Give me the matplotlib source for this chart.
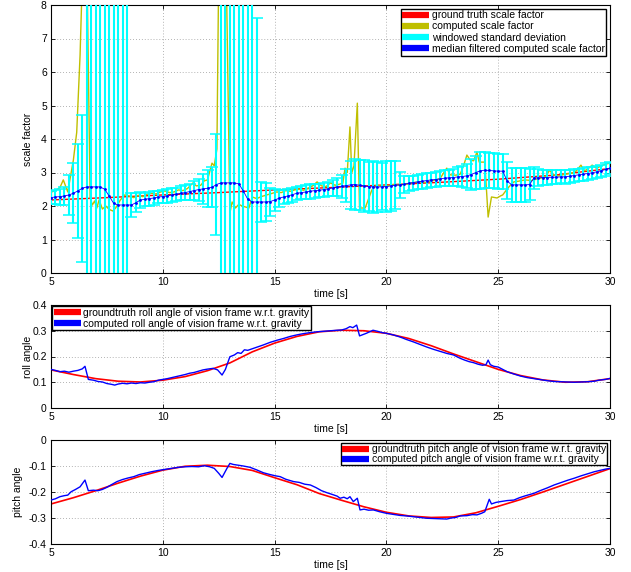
import numpy as np
import matplotlib
matplotlib.use('Agg')
import matplotlib.pyplot as plt
from matplotlib.lines import Line2D

plt.rcParams['font.family'] = ['Liberation Sans', 'DejaVu Sans']
plt.rcParams['font.size'] = 7.5
plt.rcParams['axes.unicode_minus'] = False

# ---------------- scale factor panel ----------------
t_gt_sf = [5, 7.5, 10, 12.5, 15, 17.5, 20, 22.5, 25, 27.5, 30]
gt_sf = [2.18, 2.25, 2.33, 2.40, 2.48, 2.55, 2.63, 2.71, 2.80, 2.92, 3.12]

t_comp_sf = [5.0, 5.2, 5.4, 5.55, 5.75, 5.9, 6.0, 6.15, 6.3, 6.4, 6.55, 6.75, 6.85, 6.95,
             7.05, 7.15, 7.3, 7.45, 7.6, 7.77, 7.9, 8.1, 8.3, 8.5, 8.7, 8.9, 9.1, 9.3, 9.5,
             9.7, 9.9, 10.1, 10.3, 10.5, 10.7, 10.9, 11.1, 11.35, 11.5, 11.7, 11.85, 12.0,
             12.2, 12.3, 12.42, 12.5, 12.65, 12.85, 13.0, 13.1, 13.25, 13.4, 13.55, 13.7,
             13.85, 14.0, 14.2, 14.4, 14.65, 14.9, 15.1, 15.3, 15.5, 15.7, 15.9, 16.1, 16.3,
             16.5, 16.7, 16.9, 17.1, 17.3, 17.5, 17.7, 17.9, 18.05, 18.15, 18.25, 18.37,
             18.45, 18.55, 18.7, 18.75, 18.8, 19.05, 19.35, 19.57, 19.8, 20.0, 20.3, 20.6,
             20.9, 21.2, 21.5, 21.8, 22.1, 22.4, 22.7, 22.85, 23.1, 23.3, 23.45, 23.6, 23.75,
             23.9, 24.05, 24.15, 24.4, 24.55, 24.7, 24.95, 25.1, 25.2, 25.45, 25.7, 25.9,
             26.2, 26.5, 26.8, 27.1, 27.3, 27.45, 27.7, 28.0, 28.3, 28.5, 28.7, 28.85, 29.0,
             29.2, 29.4, 29.6, 29.8, 30.0]
comp_sf = [2.42, 2.45, 2.55, 2.78, 2.42, 3.0, 3.37, 4.2, 6.5, 8.8, 12.0, 2.24, 2.03, 2.15,
           1.94, 2.18, 1.91, 2.0, 1.9, 1.85, 1.95, 2.18, 2.33, 2.3, 2.25, 2.32, 2.28, 2.35, 2.38,
           2.36, 2.42, 2.45, 2.40, 2.42, 2.48, 2.46, 2.52, 2.69, 2.6, 2.62, 2.75, 2.78,
           3.28, 3.2, 3.7, 9.0, 14.0, 8.5, 1.79, 2.12, 1.94, 2.05, 2.0, 1.97,
           1.94, 2.27, 2.22, 2.28, 2.33, 2.38, 2.42, 2.40, 2.46, 2.44, 2.48, 2.5, 2.47,
           2.53, 2.6, 2.72, 2.6, 2.58, 2.69, 2.62, 2.65, 2.68, 3.13, 3.0, 4.36,
           2.99, 3.2, 5.07, 3.37, 1.94, 1.94, 2.48, 2.63, 2.58, 2.6, 2.64, 2.62,
           2.66, 2.7, 2.72, 2.7, 2.76, 2.82, 3.13, 2.93, 2.92, 2.95, 3.2, 3.52, 3.37,
           3.35, 3.61, 3.31, 3.31, 1.67, 2.27, 2.24, 2.3, 2.33, 2.55, 2.72, 2.74,
           2.78, 2.76, 2.82, 2.86, 3.07, 2.93, 2.9, 2.95, 2.98, 3.05, 3.22, 3.05, 3.1,
           3.22, 3.12, 3.2, 3.25, 3.28]

t_med_sf = np.arange(126) * 0.2 + 5.0
med_sf = [2.25, 2.27, 2.28, 2.30, 2.33, 2.38, 2.45, 2.53, 2.57, 2.57,
          2.57, 2.57, 2.50, 2.30, 2.08, 2.03, 2.03, 2.03, 2.03, 2.10,
          2.18, 2.20, 2.22, 2.24, 2.27, 2.28, 2.30, 2.33, 2.35, 2.38,
          2.40, 2.43, 2.46, 2.49, 2.51, 2.53, 2.56, 2.64, 2.69, 2.69,
          2.69, 2.69, 2.66, 2.45, 2.20, 2.12, 2.12, 2.12, 2.12, 2.13,
          2.18, 2.23, 2.27, 2.30, 2.34, 2.38, 2.40, 2.42, 2.44, 2.46,
          2.47, 2.49, 2.51, 2.54, 2.57, 2.59, 2.61, 2.63, 2.64, 2.62,
          2.60, 2.58, 2.57, 2.57, 2.57, 2.58, 2.60, 2.62, 2.63, 2.65,
          2.68, 2.70, 2.72, 2.74, 2.76, 2.78, 2.79, 2.81, 2.83, 2.84,
          2.85, 2.87, 2.88, 2.90, 2.94, 3.00, 3.05, 3.07, 3.06, 3.05,
          3.04, 3.04, 2.75, 2.63, 2.63, 2.63, 2.63, 2.64, 2.84, 2.84,
          2.85, 2.85, 2.86, 2.86, 2.87, 2.87, 2.89, 2.91, 2.93, 2.95,
          2.97, 2.99, 3.02, 3.05, 3.09, 3.13]
std_sf = [0.20, 0.22, 0.24, 0.26, 0.60, 0.90, 1.40, 2.20, 9.0, 9.5,
          10.0, 10.0, 10.0, 10.0, 10.0, 10.0, 9.5, 9.0, 0.35, 0.28,
          0.24, 0.20, 0.21, 0.20, 0.19, 0.20, 0.21, 0.20, 0.20, 0.21,
          0.22, 0.24, 0.28, 0.33, 0.45, 0.55, 0.60, 1.50, 9.0, 10.0,
          10.0, 10.0, 10.0, 10.0, 10.0, 9.0, 5.50, 0.60, 0.57, 0.42,
          0.33, 0.26, 0.22, 0.20, 0.21, 0.20, 0.20, 0.21, 0.22, 0.21,
          0.20, 0.21, 0.22, 0.24, 0.27, 0.35, 0.50, 0.72, 0.76, 0.75,
          0.78, 0.74, 0.77, 0.75, 0.70, 0.76, 0.74, 0.72, 0.38, 0.25,
          0.22, 0.21, 0.22, 0.23, 0.22, 0.21, 0.23, 0.22, 0.23, 0.24,
          0.25, 0.28, 0.32, 0.36, 0.45, 0.50, 0.55, 0.53, 0.52, 0.52,
          0.52, 0.52, 0.55, 0.50, 0.50, 0.50, 0.50, 0.45, 0.32, 0.25,
          0.22, 0.21, 0.20, 0.20, 0.19, 0.20, 0.19, 0.18, 0.18, 0.19,
          0.18, 0.18, 0.17, 0.17, 0.18, 0.18]

# ---------------- roll panel ----------------
t_gt_roll = list(range(5, 31))
gt_roll = [0.148, 0.130, 0.114, 0.104, 0.101, 0.108, 0.122, 0.145, 0.175, 0.218,
           0.252, 0.278, 0.296, 0.302, 0.300, 0.290, 0.270, 0.242, 0.210, 0.180,
           0.150, 0.126, 0.109, 0.100, 0.102, 0.114]

t_roll = [5.0, 5.2, 5.4, 5.6, 5.8, 6.0, 6.2, 6.4, 6.52, 6.67, 6.9, 7.1, 7.3, 7.5, 7.7,
          7.85, 8.0, 8.2, 8.4, 8.6, 8.8, 9.0, 9.2, 9.4, 9.6, 9.8, 10.0, 10.2, 10.4, 10.6,
          10.8, 11.0, 11.2, 11.4, 11.6, 11.8, 12.0, 12.25, 12.45, 12.65, 12.8, 13.0,
          13.2, 13.35, 13.5, 13.65, 13.8, 14.0, 14.2, 14.5, 14.8, 15.1, 15.4, 15.7,
          16.0, 16.3, 16.6, 16.9, 17.2, 17.5, 17.8, 18.0, 18.2, 18.37, 18.5, 18.67,
          18.8, 18.95, 19.1, 19.25, 19.4, 19.6, 19.8, 20.0, 20.3, 20.6, 20.9, 21.2,
          21.5, 21.8, 22.1, 22.4, 22.7, 23.0, 23.3, 23.5, 23.7, 23.9, 24.1, 24.3,
          24.45, 24.55, 24.65, 24.8, 25.0, 25.2, 25.4, 25.7, 26.0, 26.3, 26.6, 26.9,
          27.2, 27.5, 27.8, 28.1, 28.4, 28.7, 29.0, 29.3, 29.5, 29.8, 30.0]
roll = [0.150, 0.146, 0.141, 0.143, 0.139, 0.143, 0.146, 0.152, 0.162, 0.111, 0.108,
        0.103, 0.101, 0.095, 0.092, 0.089, 0.093, 0.096, 0.094, 0.097, 0.095, 0.098,
        0.097, 0.100, 0.102, 0.108, 0.111, 0.114, 0.118, 0.122, 0.126, 0.130, 0.135,
        0.138, 0.143, 0.148, 0.151, 0.154, 0.148, 0.128, 0.150, 0.199, 0.206, 0.215,
        0.212, 0.226, 0.224, 0.230, 0.236, 0.245, 0.255, 0.263, 0.270, 0.278, 0.284,
        0.289, 0.293, 0.296, 0.298, 0.300, 0.302, 0.303, 0.308, 0.316, 0.312, 0.322,
        0.280, 0.285, 0.290, 0.296, 0.302, 0.298, 0.293, 0.290, 0.284, 0.276, 0.266,
        0.257, 0.247, 0.237, 0.228, 0.220, 0.212, 0.206, 0.193, 0.186, 0.180, 0.176,
        0.170, 0.166, 0.168, 0.186, 0.168, 0.162, 0.159, 0.150, 0.141, 0.132, 0.124,
        0.118, 0.114, 0.110, 0.106, 0.103, 0.102, 0.101, 0.100, 0.101, 0.102, 0.104,
        0.108, 0.111, 0.115]

# ---------------- pitch panel ----------------
t_gt_pitch = list(range(5, 31))
gt_pitch = [-0.246, -0.222, -0.195, -0.166, -0.139, -0.116, -0.101, -0.097, -0.102,
            -0.117, -0.145, -0.172, -0.206, -0.232, -0.257, -0.278, -0.292, -0.298,
            -0.296, -0.280, -0.255, -0.229, -0.200, -0.170, -0.140, -0.110]

t_pitch = [5.0, 5.2, 5.4, 5.6, 5.75, 5.9, 6.1, 6.3, 6.52, 6.67, 6.9, 7.1, 7.3, 7.5, 7.7,
           7.95, 8.2, 8.45, 8.7, 8.95, 9.2, 9.5, 9.8, 10.1, 10.4, 10.7, 11.0, 11.3, 11.6,
           11.86, 12.1, 12.3, 12.5, 12.65, 12.87, 13.0, 13.15, 13.3, 13.6, 13.9, 14.2,
           14.5, 14.8, 15.05, 15.25, 15.5, 15.85, 16.1, 16.35, 16.6, 16.85, 17.1, 17.35,
           17.6, 17.8, 17.93, 18.1, 18.25, 18.37, 18.52, 18.7, 18.82, 19.0, 19.2, 19.42,
           19.7, 20.0, 20.3, 20.6, 20.9, 21.2, 21.5, 21.8, 22.1, 22.4, 22.7, 22.9, 23.1,
           23.3, 23.6, 23.85, 24.05, 24.25, 24.4, 24.6, 24.7, 24.9, 25.1, 25.4, 25.7,
           25.95, 26.2, 26.6, 26.9, 27.2, 27.5, 27.8, 28.1, 28.4, 28.7, 29.0, 29.3, 29.6,
           29.8, 30.0]
pitch = [-0.231, -0.226, -0.218, -0.214, -0.212, -0.199, -0.190, -0.180, -0.154, -0.195,
         -0.193, -0.195, -0.190, -0.182, -0.172, -0.160, -0.152, -0.146, -0.141, -0.133,
         -0.128, -0.122, -0.117, -0.113, -0.109, -0.105, -0.103, -0.102, -0.103, -0.099,
         -0.103, -0.109, -0.128, -0.144, -0.109, -0.090, -0.094, -0.096, -0.100, -0.105,
         -0.115, -0.126, -0.133, -0.138, -0.141, -0.151, -0.160, -0.163, -0.170, -0.173,
         -0.183, -0.195, -0.203, -0.210, -0.216, -0.224, -0.220, -0.226, -0.218, -0.237,
         -0.224, -0.269, -0.266, -0.270, -0.269, -0.276, -0.282, -0.286, -0.290, -0.292,
         -0.295, -0.298, -0.301, -0.302, -0.303, -0.304, -0.300, -0.298, -0.292, -0.291,
         -0.287, -0.288, -0.282, -0.276, -0.228, -0.246, -0.240, -0.237, -0.233, -0.231,
         -0.222, -0.215, -0.205, -0.194, -0.184, -0.173, -0.164, -0.155, -0.147, -0.138,
         -0.130, -0.122, -0.116, -0.112, -0.109]

x_ticks = [5, 10, 15, 20, 25, 30]
sf_ticks = [0, 1, 2, 3, 4, 5, 6, 7, 8]
roll_ticks = [0, 0.1, 0.2, 0.3, 0.4]
roll_labels = ['0', '0.1', '0.2', '0.3', '0.4']
pitch_ticks = [-0.4, -0.3, -0.2, -0.1, 0]
pitch_labels = ['-0.4', '-0.3', '-0.2', '-0.1', '0']

RED = '#ff0000'
OLIVE = '#bfbf00'
CYAN = '#00ffff'
BLUE = '#0000ff'


def style_axes(ax):
    ax.set_xlim(5, 30)
    ax.set_xticks(x_ticks)
    ax.tick_params(direction='in', top=True, right=True, length=3, width=0.6, pad=3)
    ax.grid(True, linestyle=(0, (1, 2.5)), color='#9a9a9a', linewidth=0.6)
    ax.set_axisbelow(True)
    for s in ax.spines.values():
        s.set_linewidth(0.8)
    ax.set_xlabel('time [s]', labelpad=1)


def legend_handles(colors):
    return [Line2D([], [], color=c, lw=4.5, solid_capstyle='butt') for c in colors]


fig = plt.figure(figsize=(6.31, 5.72), dpi=100)
W = 631.0
H = 572.0
L = 51 / W
AW = (610 - 51) / W

# top panel
ax1 = fig.add_axes([L, 1 - 273 / H, AW, (273 - 5) / H])
ax1.plot(t_gt_sf, gt_sf, color=RED, lw=1, zorder=2)
ax1.plot(t_comp_sf, comp_sf, color=OLIVE, lw=1, zorder=2)
ax1.errorbar(t_med_sf, med_sf, yerr=std_sf, fmt='none', ecolor=CYAN,
             elinewidth=1.5, capsize=4, capthick=1.1, zorder=3)
ax1.plot(t_med_sf, med_sf, color=BLUE, lw=0.6, marker='.', ms=2, zorder=4)
ax1.set_ylim(0, 8)
ax1.set_yticks(sf_ticks)
style_axes(ax1)
ax1.set_ylabel('scale factor')
ax1.yaxis.set_label_coords(-0.032, 0.5)
leg1 = ax1.legend(legend_handles((RED, OLIVE, CYAN, BLUE)),
                  ['ground truth scale factor', 'computed scale factor',
                   'windowed standard deviation',
                   'median filtered computed scale factor'],
                  loc='upper right', handlelength=2.6, handletextpad=0.25,
                  borderpad=0.15, labelspacing=0.12, borderaxespad=0.35,
                  fancybox=False, framealpha=1, edgecolor='black')
leg1.get_frame().set_linewidth(1.0)

# middle panel
ax2 = fig.add_axes([L, 1 - 408 / H, AW, (408 - 305) / H])
ax2.plot(t_gt_roll, gt_roll, color=RED, lw=1.2, zorder=2)
ax2.plot(t_roll, roll, color=BLUE, lw=1, zorder=3)
ax2.set_ylim(0, 0.4)
ax2.set_yticks(roll_ticks)
ax2.set_yticklabels(roll_labels)
style_axes(ax2)
ax2.set_ylabel('roll angle')
ax2.yaxis.set_label_coords(-0.032, 0.5)
leg2 = ax2.legend(legend_handles((RED, BLUE)),
                  ['groundtruth roll angle of vision frame w.r.t. gravity',
                   'computed roll angle of vision frame w.r.t. gravity'],
                  loc='upper left', handlelength=2.6, handletextpad=0.25,
                  borderpad=0.15, labelspacing=0.12, borderaxespad=0.1,
                  fancybox=False, framealpha=1, edgecolor='black')
leg2.get_frame().set_linewidth(1.0)

# bottom panel
ax3 = fig.add_axes([L, 1 - 544 / H, AW, (544 - 440) / H])
ax3.plot(t_gt_pitch, gt_pitch, color=RED, lw=1.2, zorder=2)
ax3.plot(t_pitch, pitch, color=BLUE, lw=1, zorder=3)
ax3.set_ylim(-0.4, 0)
ax3.set_yticks(pitch_ticks)
ax3.set_yticklabels(pitch_labels)
style_axes(ax3)
ax3.set_ylabel('pitch angle')
ax3.yaxis.set_label_coords(-0.05, 0.5)
leg3 = ax3.legend(legend_handles((RED, BLUE)),
                  ['groundtruth pitch angle of vision frame w.r.t. gravity',
                   'computed pitch angle of vision frame w.r.t. gravity'],
                  loc='upper right', handlelength=2.6, handletextpad=0.25,
                  borderpad=0.1, labelspacing=0.0, borderaxespad=0.3,
                  fancybox=False, framealpha=1, edgecolor='black')
leg3.get_frame().set_linewidth(1.0)

fig.savefig('out.png', dpi=100)
